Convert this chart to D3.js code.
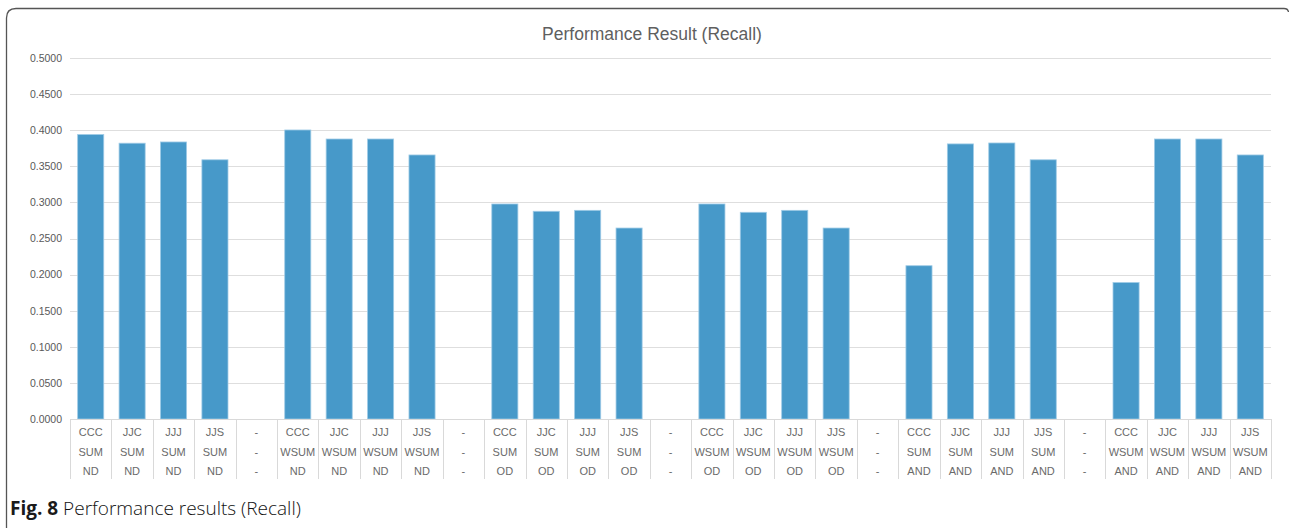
<!DOCTYPE html>
<html>
<head>
<meta charset="utf-8">
<script src="https://cdn.jsdelivr.net/npm/d3@7"></script>
<style>
  body { margin: 0; background: #fff; }
  svg { display: block; }
</style>
</head>
<body>
<div id="chart"></div>
<script>
var w = 1289;
var h = 528;

// category labels, three lines each ("-" slots are the empty spacers)
var algos   = ['CCC','JJC','JJJ','JJS','-','CCC','JJC','JJJ','JJS','-','CCC','JJC','JJJ','JJS','-','CCC','JJC','JJJ','JJS','-','CCC','JJC','JJJ','JJS','-','CCC','JJC','JJJ','JJS'];
var methods = ['SUM','SUM','SUM','SUM','-','WSUM','WSUM','WSUM','WSUM','-','SUM','SUM','SUM','SUM','-','WSUM','WSUM','WSUM','WSUM','-','SUM','SUM','SUM','SUM','-','WSUM','WSUM','WSUM','WSUM'];
var dists   = ['ND','ND','ND','ND','-','ND','ND','ND','ND','-','OD','OD','OD','OD','-','OD','OD','OD','OD','-','AND','AND','AND','AND','-','AND','AND','AND','AND'];

// recall values (null = spacer)
var recall = [0.3940, 0.3820, 0.3837, 0.3590, null,
              0.4003, 0.3878, 0.3878, 0.3657, null,
              0.2978, 0.2877, 0.2890, 0.2645, null,
              0.2978, 0.2863, 0.2890, 0.2645, null,
              0.2123, 0.3810, 0.3823, 0.3590, null,
              0.1890, 0.3878, 0.3878, 0.3657];

var yTicks = [0, 0.05, 0.1, 0.15, 0.2, 0.25, 0.3, 0.35, 0.4, 0.45, 0.5];

var svg = d3.select('#chart').append('svg')
  .attr('width', w)
  .attr('height', h);

// outer frame
svg.append('path')
  .attr('d', 'M6.5,540 L6.5,18 Q6.5,8.5 16,8.5 L1284,8.5 Q1288,8.5 1288.5,12')
  .attr('fill', 'none')
  .attr('stroke', '#555')
  .attr('stroke-width', 1.3);

var plotLeft = 70, plotRight = 1271, plotTop = 58, plotBottom = 419;

var x = d3.scaleBand()
  .domain(d3.range(recall.length))
  .range([plotLeft, plotRight])
  .paddingInner(0.37)
  .paddingOuter(0.185);

var y = d3.scaleLinear()
  .domain([0, 0.5])
  .range([plotBottom, plotTop]);

// title
svg.append('text')
  .attr('x', 652)
  .attr('y', 40)
  .attr('text-anchor', 'middle')
  .attr('font-family', 'Liberation Sans, Arial, sans-serif')
  .attr('font-size', 17.5)
  .attr('fill', '#5f5f5f')
  .text('Performance Result (Recall)');

// gridlines
svg.append('g').selectAll('line')
  .data(yTicks)
  .enter().append('line')
  .attr('x1', plotLeft)
  .attr('x2', plotRight)
  .attr('y1', function(d) { return Math.round(y(d)) + 0.5; })
  .attr('y2', function(d) { return Math.round(y(d)) + 0.5; })
  .attr('stroke', '#dedede')
  .attr('stroke-width', 1);

// y axis labels
var yAxis = d3.axisLeft(y)
  .tickValues(yTicks)
  .tickSize(0)
  .tickPadding(8)
  .tickFormat(d3.format('.4f'));

var yg = svg.append('g')
  .attr('transform', 'translate(' + plotLeft + ',0)')
  .call(yAxis);
yg.select('.domain').remove();
yg.selectAll('text')
  .attr('font-family', 'Liberation Sans, Arial, sans-serif')
  .attr('font-size', 10.5)
  .attr('fill', '#595959');

// bars
svg.append('g').selectAll('rect')
  .data(recall.map(function(v, i) { return { i: i, v: v }; }).filter(function(d) { return d.v !== null; }))
  .enter().append('rect')
  .attr('x', function(d) { return x(d.i); })
  .attr('width', x.bandwidth())
  .attr('y', function(d) { return y(d.v); })
  .attr('height', function(d) { return y(0) - y(d.v); })
  .attr('fill', '#4799c9')
  .attr('stroke', '#9fcbe6')
  .attr('stroke-width', 0.8);

// category separators
var bounds = d3.range(recall.length + 1).map(function(i) { return plotLeft + i * (plotRight - plotLeft) / recall.length; });
svg.append('g').selectAll('line')
  .data(bounds)
  .enter().append('line')
  .attr('x1', function(d) { return Math.round(d) + 0.5; })
  .attr('x2', function(d) { return Math.round(d) + 0.5; })
  .attr('y1', plotBottom)
  .attr('y2', 479)
  .attr('stroke', '#d9d9d9')
  .attr('stroke-width', 1);

// x axis line
svg.append('line')
  .attr('x1', plotLeft).attr('x2', plotRight)
  .attr('y1', plotBottom + 0.5).attr('y2', plotBottom + 0.5)
  .attr('stroke', '#d9d9d9');

// category labels
var rows = [algos, methods, dists];
var rowY = [436, 456, 475];
rows.forEach(function(row, r) {
  svg.append('g').selectAll('text')
    .data(row)
    .enter().append('text')
    .attr('x', function(d, i) { return x(i) + x.bandwidth() / 2; })
    .attr('y', rowY[r])
    .attr('text-anchor', 'middle')
    .attr('font-family', 'Liberation Sans, Arial, sans-serif')
    .attr('font-size', 11)
    .attr('fill', '#6a6a6a')
    .text(function(d) { return d; });
});

// caption
var cap = svg.append('text')
  .attr('x', 10)
  .attr('y', 515)
  .attr('font-family', 'Open Sans, Noto Sans, sans-serif')
  .attr('font-size', 19)
  .attr('fill', '#1a1a1a');
cap.append('tspan').attr('font-weight', 'bold').text('Fig. 8');
cap.append('tspan').attr('font-weight', 300).attr('fill', '#111').text(' Performance results (Recall)');
</script>
</body>
</html>
